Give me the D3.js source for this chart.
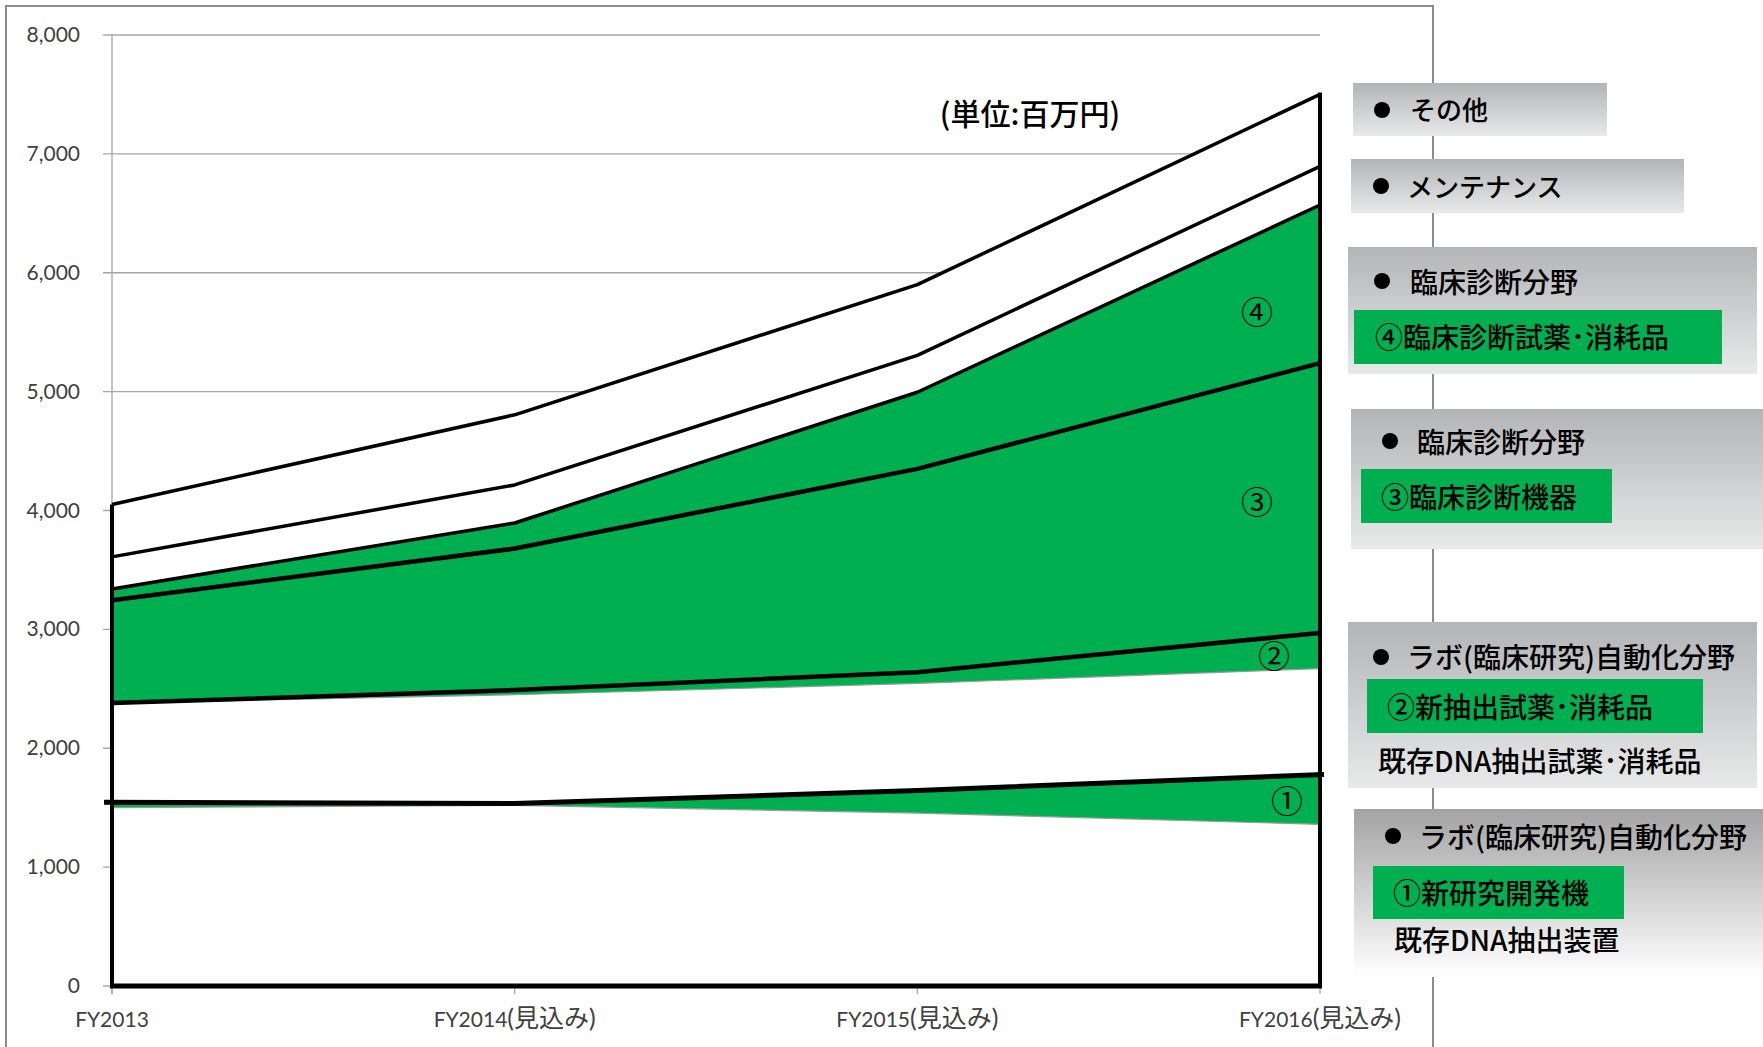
<!DOCTYPE html>
<html lang="ja">
<head>
<meta charset="utf-8">
<title>市場規模推移</title>
<script src="https://cdn.jsdelivr.net/npm/d3@7"></script>
<style>
	body { margin: 0; background: white; }
	svg { display: block; }
	.tick-lbl { font-family: Lato, "Noto Sans CJK JP", sans-serif; font-size: 21px; fill: #404040; }
	.jp { font-family: "Noto Sans CJK JP", sans-serif; fill: black; font-weight: 500; }
</style>
</head>
<body>
<svg id="chart" width="1763" height="1047"></svg>
<script>
// categories and layer values (millions of yen), stacked bottom -> top
var years = ["FY2013", "FY2014(見込み)", "FY2015(見込み)", "FY2016(見込み)"]
var existDevice = [1500, 1520, 1455, 1360]   // 既存DNA抽出装置
var newDevice   = [45, 15, 190, 420]         // ①新研究開発機
var existReagent = [835, 915, 900, 890]      // 既存DNA抽出試薬・消耗品
var newReagent  = [0, 40, 95, 300]           // ②新抽出試薬・消耗品
var clinDevice  = [865, 1190, 1710, 2270]    // ③臨床診断機器
var clinReagent = [95, 215, 645, 1330]       // ④臨床診断試薬・消耗品
var maintenance = [270, 320, 310, 325]       // メンテナンス
var others      = [440, 590, 595, 605]       // その他
var yTicks = [0, 1000, 2000, 3000, 4000, 5000, 6000, 7000, 8000]
var circled = ["①", "②", "③", "④"]
var unitLabel = "(単位:百万円)"

var keys = ["existDevice","newDevice","existReagent","newReagent","clinDevice","clinReagent","maintenance","others"]
var fills = {existDevice:"white", newDevice:"#00b050", existReagent:"white", newReagent:"#00b050",
	clinDevice:"#00b050", clinReagent:"#00b050", maintenance:"white", others:"white"}
var src = {existDevice:existDevice, newDevice:newDevice, existReagent:existReagent, newReagent:newReagent,
	clinDevice:clinDevice, clinReagent:clinReagent, maintenance:maintenance, others:others}
var rows = years.map(function(y, i) {
	var r = {year: y}
	keys.forEach(function(k) { r[k] = src[k][i] })
	return r
})
var series = d3.stack().keys(keys)(rows)
var byKey = {}
series.forEach(function(s) { byKey[s.key] = s })

var svg = d3.select("#chart")
var x = d3.scalePoint().domain(years).range([112, 1320])
var y = d3.scaleLinear().domain([0, 8000]).range([986, 35])

// outer frame
svg.append("rect").attr("x", 6).attr("y", 6).attr("width", 1427).attr("height", 1060)
	.attr("fill", "none").attr("stroke", "#8c8c8c").attr("stroke-width", 2)

// gridlines + y axis
svg.selectAll(".grid").data(yTicks).enter().append("line")
	.attr("x1", 103).attr("x2", 1320)
	.attr("y1", function(d) { return y(d) }).attr("y2", function(d) { return y(d) })
	.attr("stroke", "#a6a6a6").attr("stroke-width", 1.3)
svg.append("line").attr("x1", x(years[0])).attr("x2", x(years[0]))
	.attr("y1", y(8000)).attr("y2", y(0) + 8).attr("stroke", "#a6a6a6").attr("stroke-width", 1.3)
svg.selectAll(".ylbl").data(yTicks).enter().append("text")
	.attr("class", "tick-lbl").attr("text-anchor", "end")
	.attr("x", 80).attr("y", function(d) { return y(d) + 7 })
	.text(function(d) { return d3.format(",")(d) })
svg.selectAll(".xtick").data(years).enter().append("line")
	.attr("x1", function(d) { return x(d) }).attr("x2", function(d) { return x(d) })
	.attr("y1", y(0)).attr("y2", y(0) + 8).attr("stroke", "#a6a6a6").attr("stroke-width", 1.3)
// x labels: latin part + wider CJK part
var xl = svg.selectAll(".xlbl").data(years).enter().append("text")
	.attr("class", "tick-lbl").attr("text-anchor", "middle")
	.attr("x", function(d) { return x(d) }).attr("y", 1027)
xl.append("tspan").text(function(d) { return d.split("(")[0] })
xl.append("tspan").attr("font-size", 25)
	.text(function(d) { var p = d.indexOf("("); return p < 0 ? "" : d.slice(p) })

// stacked areas
var area = d3.area()
	.x(function(d) { return x(d.data.year) })
	.y0(function(d) { return y(d[0]) })
	.y1(function(d) { return y(d[1]) })
svg.selectAll(".layer").data(series).enter().append("path")
	.attr("d", area).attr("fill", function(s) { return fills[s.key] })

var topLine = d3.line()
	.x(function(d) { return x(d.data.year) })
	.y(function(d) { return y(d[1]) })

// thin gray edges under the green bands
;["existDevice", "existReagent"].forEach(function(k) {
	svg.append("path").attr("d", topLine(byKey[k])).attr("fill", "none")
		.attr("stroke", "#9a9a9a").attr("stroke-width", 1.2)
})
// black outlines
var outline = [["newReagent", 4.5], ["clinDevice", 4.5], ["clinReagent", 3.5], ["maintenance", 3.5], ["others", 3.5]]
outline.forEach(function(o) {
	svg.append("path").attr("d", topLine(byKey[o[0]])).attr("fill", "none")
		.attr("stroke", "black").attr("stroke-width", o[1]).attr("stroke-linejoin", "round")
})
// ① line, slightly overhanging the axis
var nd = byKey.newDevice
var ndPts = nd.map(function(d) { return [x(d.data.year), y(d[1])] })
ndPts[0][0] -= 8
ndPts[ndPts.length - 1][0] += 4
svg.append("path").attr("d", d3.line()(ndPts)).attr("fill", "none")
	.attr("stroke", "black").attr("stroke-width", 5)

var tot = byKey.others
svg.append("line").attr("x1", x(years[0])).attr("x2", x(years[0]))
	.attr("y1", y(0)).attr("y2", y(tot[0][1])).attr("stroke", "black").attr("stroke-width", 4)
svg.append("line").attr("x1", x(years[3])).attr("x2", x(years[3]))
	.attr("y1", y(0) + 2).attr("y2", y(tot[3][1]) - 2).attr("stroke", "black").attr("stroke-width", 4)
svg.append("line").attr("x1", x(years[0]) - 2).attr("x2", x(years[3]) + 2)
	.attr("y1", y(0)).attr("y2", y(0)).attr("stroke", "black").attr("stroke-width", 5)

// circled labels inside the bands
var circPos = [
	{dx: -33, v: 1545},
	{dx: -46, v: 2765},
	{dx: -63, v: 4065},
	{dx: -63, v: 5665}
]
svg.selectAll(".circ").data(circPos).enter().append("text")
	.attr("class", "jp").attr("text-anchor", "middle").attr("font-size", 32)
	.style("font-weight", 400)
	.attr("x", function(d) { return x(years[3]) + d.dx })
	.attr("y", function(d) { return y(d.v) + 11 })
	.text(function(d, i) { return circled[i] })

svg.append("text").attr("class", "jp").attr("font-size", 30).attr("text-anchor", "middle")
	.attr("x", 1030).attr("y", 125).text(unitLabel)

// legend panels
var defs = svg.append("defs")
function grad(id, c0, c1) {
	var g = defs.append("linearGradient").attr("id", id).attr("x1", 0).attr("x2", 0).attr("y1", 0).attr("y2", 1)
	g.append("stop").attr("offset", "0%").attr("stop-color", c0)
	g.append("stop").attr("offset", "100%").attr("stop-color", c1)
}
grad("gGray", "#b3b4b6", "#e8e9e9")
grad("gFade", "#a3a3a3", "#ffffff")

var panels = [
	{x: 1353, y: 83, w: 254, h: 53, fill: "gGray", fs: 26, bx: 1382, by: 110, tx: 1410, ty: 120, head: "その他"},
	{x: 1351, y: 159, w: 333, h: 54, fill: "gGray", fs: 26, bx: 1381, by: 186, tx: 1407, ty: 197, head: "メンテナンス"},
	{x: 1348, y: 247, w: 409, h: 127, fill: "gGray", fs: 28, bx: 1382, by: 281, tx: 1410, ty: 293, head: "臨床診断分野",
		gx: 1354, gy: 310, gw: 368, gh: 54, gtx: 1375, gty: 348, green: "④臨床診断試薬･消耗品"},
	{x: 1351, y: 409, w: 412, h: 140, fill: "gGray", fs: 28, bx: 1390, by: 441, tx: 1417, ty: 453, head: "臨床診断分野",
		gx: 1361, gy: 469, gw: 251, gh: 54, gtx: 1381, gty: 508, green: "③臨床診断機器"},
	{x: 1348, y: 622, w: 409, h: 166, fill: "gGray", fs: 28, bx: 1381, by: 657, tx: 1407, ty: 668, head: "ラボ(臨床研究)自動化分野",
		gx: 1367, gy: 679, gw: 336, gh: 54, gtx: 1387, gty: 718, green: "②新抽出試薬･消耗品",
		px: 1378, py: 772, plain: "既存DNA抽出試薬･消耗品"},
	{x: 1354, y: 809, w: 409, h: 168, fill: "gFade", fs: 28, bx: 1393, by: 836, tx: 1419, ty: 848, head: "ラボ(臨床研究)自動化分野",
		gx: 1373, gy: 866, gw: 251, gh: 53, gtx: 1393, gty: 904, green: "①新研究開発機",
		px: 1394, py: 951, plain: "既存DNA抽出装置"}
]
panels.forEach(function(p) {
	var g = svg.append("g")
	g.append("rect").attr("x", p.x).attr("y", p.y).attr("width", p.w).attr("height", p.h)
		.attr("fill", "url(#" + p.fill + ")")
	g.append("circle").attr("cx", p.bx).attr("cy", p.by).attr("r", 8).attr("fill", "black")
	g.append("text").attr("class", "jp").attr("font-size", p.fs).attr("x", p.tx).attr("y", p.ty).text(p.head)
	if (p.green) {
		g.append("rect").attr("x", p.gx).attr("y", p.gy).attr("width", p.gw).attr("height", p.gh).attr("fill", "#00b050")
		g.append("text").attr("class", "jp").attr("font-size", p.fs).attr("x", p.gtx).attr("y", p.gty).text(p.green)
	}
	if (p.plain) {
		g.append("text").attr("class", "jp").attr("font-size", p.fs).attr("x", p.px).attr("y", p.py).text(p.plain)
	}
})
</script>
</body>
</html>
